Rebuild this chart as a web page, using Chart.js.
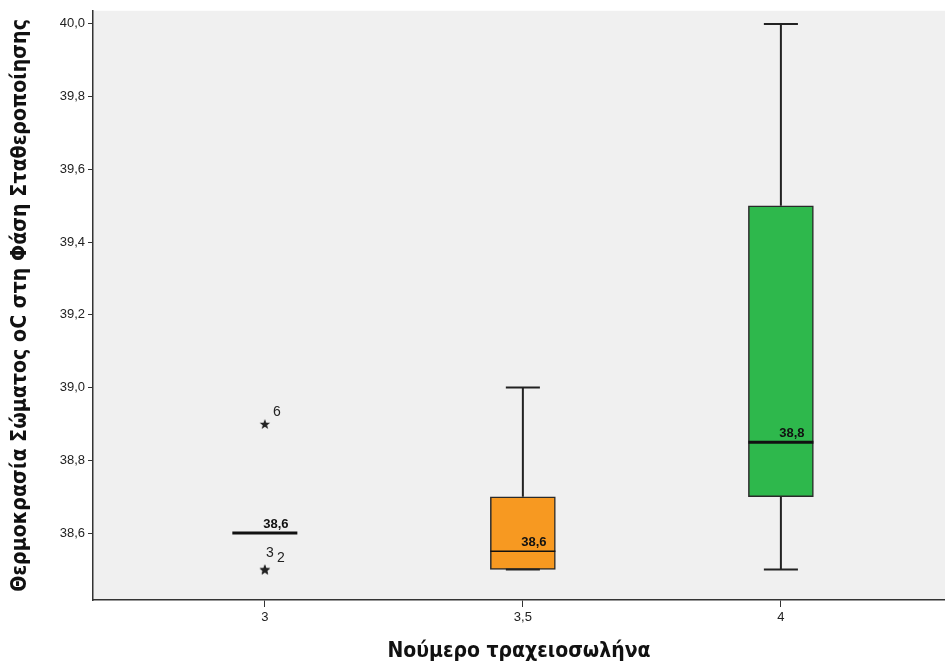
<!DOCTYPE html>
<html>
<head>
<meta charset="utf-8">
<script src="https://cdn.jsdelivr.net/npm/chart.js@4/dist/chart.umd.min.js"></script>
<style>
  body { margin: 0; background: #fff; }
  #wrap { width: 945px; height: 666px; }
</style>
</head>
<body>
<div id="wrap"><canvas id="boxChart"></canvas></div>
<script>
// DATA
let groups = [3, 3.5, 4];
let mins = [38.6, 38.5, 38.5];
let q1s = [38.6, 38.5, 38.7];
let medians = [38.6, 38.55, 38.85];
let q3s = [38.6, 38.7, 39.5];
let maxs = [38.6, 39.0, 40.0];
let medianLabels = ["38,6", "38,6", "38,8"];

let outlierX = [3, 3, 3];
let outlierY = [38.9, 38.5, 38.5];
let outlierCase = ["6", "3", "2"];

let yTicks = [38.6, 38.8, 39.0, 39.2, 39.4, 39.6, 39.8, 40.0];
let xTicks = [3, 3.5, 4];

// STYLE
let boxColors = [null, "rgb(247,153,33)", "rgb(46,184,76)"];
let medianWidths = [3, 1.5, 3];
let halfBox = 0.063;
let halfCap = 0.033;
let caseOffsets = [[12, -12], [5, -16], [16, -11]];

function comma(v) {
    return v.toFixed(1).replace(".", ",");
}

// star image for outliers
function makeStar() {
    let c = document.createElement("canvas");
    c.width = 12; c.height = 12;
    let g = c.getContext("2d");
    g.fillStyle = "#222";
    g.beginPath();
    for (let i = 0; i < 10; i++) {
        let r = i % 2 === 0 ? 5.5 : 2.3;
        let a = -Math.PI / 2 + i * Math.PI / 5;
        g.lineTo(6 + r * Math.cos(a), 6.5 + r * Math.sin(a));
    }
    g.closePath();
    g.fill();
    return c;
}

// BUILD DATASETS
let boxData = [];
let whiskerData = [];
let capData = [];
groups.forEach((x, i) => {
    if (q3s[i] > q1s[i]) boxData.push({x: x, y: [q1s[i], q3s[i]]});
    if (maxs[i] > q3s[i]) {
        whiskerData.push({x: x, y: q3s[i]}, {x: x, y: maxs[i]}, {x: x, y: null});
        capData.push({x: x - halfCap, y: maxs[i]}, {x: x + halfCap, y: maxs[i]}, {x: x, y: null});
    }
    if (mins[i] < q1s[i]) {
        whiskerData.push({x: x, y: q1s[i]}, {x: x, y: mins[i]}, {x: x, y: null});
    }
    if (maxs[i] > mins[i]) {
        capData.push({x: x - halfCap, y: mins[i]}, {x: x + halfCap, y: mins[i]}, {x: x, y: null});
    }
});

let medianSets = groups.map((x, i) => ({
    type: "scatter",
    showLine: true,
    data: [{x: x - halfBox, y: medians[i]}, {x: x + halfBox, y: medians[i]}],
    borderColor: "#111",
    borderWidth: medianWidths[i],
    pointRadius: 0,
    order: 0
}));

// PLOT BACKGROUND + LABELS
const plotBg = {
    id: "plotBg",
    beforeDraw(chart) {
        let a = chart.chartArea;
        let ctx = chart.ctx;
        ctx.save();
        ctx.fillStyle = "#f0f0f0";
        ctx.fillRect(a.left, a.top, a.right - a.left, a.bottom - a.top);
        ctx.restore();
    },
    afterDatasetsDraw(chart) {
        let ctx = chart.ctx;
        let xs = chart.scales.x, ys = chart.scales.y;
        ctx.save();
        ctx.fillStyle = "#111";
        ctx.font = "bold 13px 'Liberation Sans', Arial, sans-serif";
        ctx.textAlign = "center";
        ctx.textBaseline = "bottom";
        groups.forEach((x, i) => {
            let px = xs.getPixelForValue(x) + 11;
            let py = ys.getPixelForValue(medians[i]) - 2;
            ctx.fillText(medianLabels[i], px, py);
        });
        ctx.font = "14px 'Liberation Sans', Arial, sans-serif";
        ctx.fillStyle = "#222";
        ctx.textBaseline = "middle";
        outlierCase.forEach((t, i) => {
            let px = xs.getPixelForValue(outlierX[i]) + caseOffsets[i][0];
            let py = ys.getPixelForValue(outlierY[i]) + caseOffsets[i][1];
            ctx.fillText(t, px, py);
        });
        ctx.restore();
    }
};

let tickFont = {family: "'Liberation Sans', Arial, sans-serif", size: 13};
let titleFont = {family: "'DejaVu Sans Condensed', sans-serif", size: 21, weight: "bold"};

new Chart(document.getElementById("boxChart"), {
    type: "scatter",
    data: {
        datasets: [
            {
                type: "bar",
                data: boxData,
                backgroundColor: boxColors.filter(c => c),
                borderColor: "#2a2a2a",
                borderWidth: 1.5,
                borderSkipped: false,
                barThickness: 65,
                grouped: false,
                order: 2
            },
            {
                type: "scatter",
                showLine: true,
                spanGaps: false,
                data: whiskerData,
                borderColor: "#222",
                borderWidth: 2,
                pointRadius: 0,
                order: 1
            },
            {
                type: "scatter",
                showLine: true,
                spanGaps: false,
                data: capData,
                borderColor: "#222",
                borderWidth: 2,
                pointRadius: 0,
                order: 1
            },
            ...medianSets,
            {
                type: "scatter",
                data: outlierX.map((x, i) => ({x: x, y: outlierY[i]})),
                pointStyle: makeStar(),
                order: 0
            }
        ]
    },
    options: {
        responsive: true,
        maintainAspectRatio: false,
        animation: false,
        layout: {autoPadding: false, padding: {top: 9, right: 0, left: 0, bottom: 0}},
        plugins: {legend: {display: false}, tooltip: {enabled: false}},
        scales: {
            x: {
                type: "linear",
                offset: false,
                min: 2.667,
                max: 4.318,
                afterBuildTicks: s => { s.ticks = xTicks.map(v => ({value: v})); },
                afterFit: s => { s.height = 66; s.paddingRight = 0; s.paddingLeft = 0; },
                grid: {offset: false, drawOnChartArea: false, tickLength: 7, color: "#333"},
                border: {display: true, color: "#333", width: 1.5},
                ticks: {font: tickFont, color: "#222", padding: 3, callback: v => String(v).replace(".", ",")},
                title: {display: true, text: "Νούμερο τραχειοσωλήνα", font: titleFont, color: "#111", padding: {top: 0, bottom: 2}}
            },
            y: {
                min: 38.416,
                max: 40.036,
                afterBuildTicks: s => { s.ticks = yTicks.map(v => ({value: v})); },
                afterFit: s => { s.width = 93; },
                grid: {drawOnChartArea: false, tickLength: 5, color: "#333"},
                border: {display: true, color: "#333", width: 1.5},
                ticks: {font: tickFont, color: "#222", padding: 3, callback: v => comma(v)},
                title: {display: true, text: "Θερμοκρασία Σώματος oC στη Φάση Σταθεροποίησης", font: {family: "'DejaVu Sans Condensed', sans-serif", size: 21.2, weight: "bold"}, color: "#111", padding: {top: 8, bottom: 0}}
            }
        }
    },
    plugins: [plotBg]
});
</script>
</body>
</html>
